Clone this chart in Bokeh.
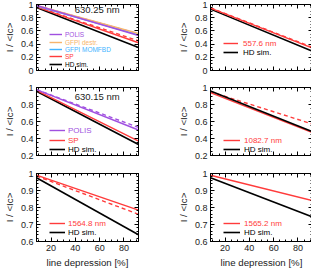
from bokeh.plotting import figure
from bokeh.models import Range1d, LinearAxis, Legend, LegendItem, Label, FixedTicker
from bokeh.layouts import column, row
from bokeh.embed import file_html
from bokeh.resources import INLINE

FONT = "Liberation Sans"
TXT = "#222222"

# line depression [%] (end points of the fitted relations)
depression = [8, 92]

# 630.25 nm
p1_polis = [0.985, 0.53]
p1_polis_obs = [0.985, 0.555]
p1_gfpi_destr = [0.985, 0.56]
p1_gfpi_momfbd = [0.975, 0.54]
p1_sp = [0.965, 0.42]
p1_sp_obs = [0.965, 0.45]
p1_hd = [0.955, 0.35]
# 557.6 nm
p2_obs = [0.945, 0.34]
p2_obs_d = [0.95, 0.35]
p2_hd = [0.93, 0.29]
# 630.15 nm
p3_polis = [0.975, 0.50]
p3_polis_obs = [0.975, 0.53]
p3_sp = [0.965, 0.37]
p3_hd = [0.955, 0.33]
# 1082.7 nm
p4_obs = [0.94, 0.47]
p4_obs_d = [0.95, 0.57]
p4_hd = [0.96, 0.48]
# 1564.8 nm
p5_obs = [0.99, 0.785]
p5_obs_d = [0.985, 0.76]
p5_hd = [0.975, 0.64]
# 1565.2 nm
p6_obs = [0.99, 0.84]
p6_hd = [0.975, 0.745]

x_ticks = [20, 40, 60, 80]
y_ticks_a = [0.0, 0.2, 0.4, 0.6, 0.8, 1.0]
y_ticks_b = [0.2, 0.4, 0.6, 0.8, 1.0]
y_ticks_c = [0.6, 0.7, 0.8, 0.9, 1.0]

C_POLIS = "#a050e0"
C_DESTR = "#f7b46c"
C_MOM = "#44b4ff"
C_SP = "#ff3b3b"
C_HD = "#000000"

TOPS = [4, 10, 10]
FRAMES = [66, 68, 68]
BOTS = [7, 8, 26]


def style_axis(ax, labels, label_text=None):
    ax.major_tick_in = 4
    ax.major_tick_out = 0
    ax.minor_tick_in = 2
    ax.minor_tick_out = 0
    ax.axis_line_color = "black"
    ax.major_tick_line_color = "black"
    ax.minor_tick_line_color = "black"
    if labels:
        ax.major_label_text_font = FONT
        ax.major_label_text_font_size = "9px"
        ax.major_label_text_color = TXT
        ax.major_label_standoff = 3
    else:
        ax.major_label_text_font_size = "1px"
        ax.major_label_text_color = None
        ax.major_label_standoff = 0
    if label_text:
        ax.axis_label = label_text
        ax.axis_label_text_font = FONT
        ax.axis_label_text_font_size = "9.7px"
        ax.axis_label_text_font_style = "normal"
        ax.axis_label_text_color = TXT
        ax.axis_label_standoff = 3


def make_fig(ylo, yhi, yticks, yminor, col, r):
    p = figure(frame_width=102, frame_height=FRAMES[r],
               x_range=Range1d(8, 92), y_range=Range1d(ylo, yhi),
               output_backend="svg", toolbar_location=None,
               x_axis_location=None, y_axis_location=None,
               min_border_left=31, min_border_right=(36 if col == 0 else 1),
               min_border_top=TOPS[r], min_border_bottom=BOTS[r])
    p.grid.visible = False
    p.outline_line_color = "black"
    p.outline_line_width = 1
    p.background_fill_color = "white"
    p.border_fill_color = "white"
    xt = FixedTicker(ticks=x_ticks, minor_ticks=list(range(10, 95, 5)))
    yt = FixedTicker(ticks=yticks, minor_ticks=yminor)
    bx = LinearAxis(ticker=xt)
    style_axis(bx, r == 2, "line depression [%]" if r == 2 else None)
    p.add_layout(bx, "below")
    tx = LinearAxis(ticker=xt)
    style_axis(tx, False)
    p.add_layout(tx, "above")
    ly = LinearAxis(ticker=yt)
    style_axis(ly, True, "I / <Ic>")
    p.add_layout(ly, "left")
    ry = LinearAxis(ticker=yt)
    style_axis(ry, False)
    p.add_layout(ry, "right")
    return p


def add_leg(p, rend, label, color, x, yc, fs, gw, standoff, h):
    lg = Legend(items=[LegendItem(label=label, renderers=[rend])],
                location=(int(round(x)), int(round(yc - h / 2))), padding=0, margin=0, spacing=0,
                glyph_width=int(round(gw)), glyph_height=h, label_height=h,
                label_standoff=int(standoff), label_text_font=FONT,
                label_text_font_size=f"{fs}px", label_text_color=color,
                background_fill_alpha=0, border_line_alpha=0)
    p.add_layout(lg)


def minor(lo, hi, step):
    n = int(round((hi - lo) / step))
    return [round(lo + i * step, 3) for i in range(n + 1)]


LW = 1.4
DASH = "4 3"
LFS = 8      # legend font size (panels 2-6)
LH = 10

# ---- panel 1
f1 = make_fig(0, 1, y_ticks_a, minor(0, 1, 0.05), 0, 0)
f1.line(depression, p1_polis_obs, color=C_POLIS, line_width=LW, line_dash=DASH)
f1.line(depression, p1_sp_obs, color=C_SP, line_width=LW, line_dash=DASH)
r_hd1 = f1.line(depression, p1_hd, color=C_HD, line_width=1.6)
r_sp1 = f1.line(depression, p1_sp, color=C_SP, line_width=LW)
r_mom = f1.line(depression, p1_gfpi_momfbd, color=C_MOM, line_width=LW)
r_des = f1.line(depression, p1_gfpi_destr, color=C_DESTR, line_width=LW)
r_pol1 = f1.line(depression, p1_polis, color=C_POLIS, line_width=LW)
f1.add_layout(Label(x=58, y=0.93, text="630.25 nm", text_align="center", text_baseline="middle",
                    text_font=FONT, text_font_size="9.5px", text_color=TXT))
for rend, lab, c, yc in [(r_pol1, "POLIS", C_POLIS, 36.0), (r_des, "GFPI destr.", C_DESTR, 28.5),
                         (r_mom, "GFPI MOMFBD", C_MOM, 21.0), (r_sp1, "SP", C_SP, 13.5),
                         (r_hd1, "HD sim.", C_HD, 6.0)]:
    add_leg(f1, rend, lab, c, 12.7, yc, 6.5, 12.7, 3, 8)

# ---- panel 2
f2 = make_fig(0, 1, y_ticks_a, minor(0, 1, 0.05), 1, 0)
f2.line(depression, p2_obs_d, color=C_SP, line_width=LW, line_dash=DASH)
r_hd2 = f2.line(depression, p2_hd, color=C_HD, line_width=1.6)
r_o2 = f2.line(depression, p2_obs, color=C_SP, line_width=LW)
add_leg(f2, r_o2, "557.6 nm", C_SP, 12.7, 27.5, LFS, 14.6, 5, LH)
add_leg(f2, r_hd2, "HD sim.", C_HD, 12.7, 18.0, LFS, 14.6, 5, LH)

# ---- panel 3
f3 = make_fig(0.2, 1, y_ticks_b, minor(0.2, 1, 0.05), 0, 1)
f3.line(depression, p3_polis_obs, color=C_POLIS, line_width=LW, line_dash=DASH)
r_hd3 = f3.line(depression, p3_hd, color=C_HD, line_width=1.6)
r_sp3 = f3.line(depression, p3_sp, color=C_SP, line_width=LW)
r_pol3 = f3.line(depression, p3_polis, color=C_POLIS, line_width=LW)
f3.add_layout(Label(x=58, y=0.90, text="630.15 nm", text_align="center", text_baseline="middle",
                    text_font=FONT, text_font_size="9.5px", text_color=TXT))
add_leg(f3, r_pol3, "POLIS", C_POLIS, 12.7, 24.5, LFS, 16.3, 3, LH)
add_leg(f3, r_sp3, "SP", C_SP, 12.7, 15.2, LFS, 16.3, 3, LH)
add_leg(f3, r_hd3, "HD sim.", C_HD, 12.7, 5.8, LFS, 16.3, 3, LH)

# ---- panel 4
f4 = make_fig(0.2, 1, y_ticks_b, minor(0.2, 1, 0.05), 1, 1)
f4.line(depression, p4_obs_d, color=C_SP, line_width=LW, line_dash=DASH)
r_o4 = f4.line(depression, p4_obs, color=C_SP, line_width=LW)
r_hd4 = f4.line(depression, p4_hd, color=C_HD, line_width=1.6)
add_leg(f4, r_o4, "1082.7 nm", C_SP, 12.7, 15.0, LFS, 16.6, 4, LH)
add_leg(f4, r_hd4, "HD sim.", C_HD, 12.7, 5.6, LFS, 16.6, 4, LH)

# ---- panel 5
f5 = make_fig(0.6, 1, y_ticks_c, minor(0.6, 1, 0.02), 0, 2)
f5.line(depression, p5_obs_d, color=C_SP, line_width=LW, line_dash=DASH)
r_hd5 = f5.line(depression, p5_hd, color=C_HD, line_width=1.6)
r_o5 = f5.line(depression, p5_obs, color=C_SP, line_width=LW)
add_leg(f5, r_o5, "1564.8 nm", C_SP, 12.7, 18.2, LFS, 16.5, 3, LH)
add_leg(f5, r_hd5, "HD sim.", C_HD, 12.7, 8.8, LFS, 16.5, 3, LH)

# ---- panel 6
f6 = make_fig(0.6, 1, y_ticks_c, minor(0.6, 1, 0.02), 1, 2)
r_hd6 = f6.line(depression, p6_hd, color=C_HD, line_width=1.6)
r_o6 = f6.line(depression, p6_obs, color=C_SP, line_width=LW)
add_leg(f6, r_o6, "1565.2 nm", C_SP, 12.7, 18.2, LFS, 16.6, 4, LH)
add_leg(f6, r_hd6, "HD sim.", C_HD, 12.7, 8.8, LFS, 16.6, 4, LH)

layout = column(row(f1, f2), row(f3, f4), row(f5, f6))
open("out.html", "w").write(file_html(layout, INLINE))
